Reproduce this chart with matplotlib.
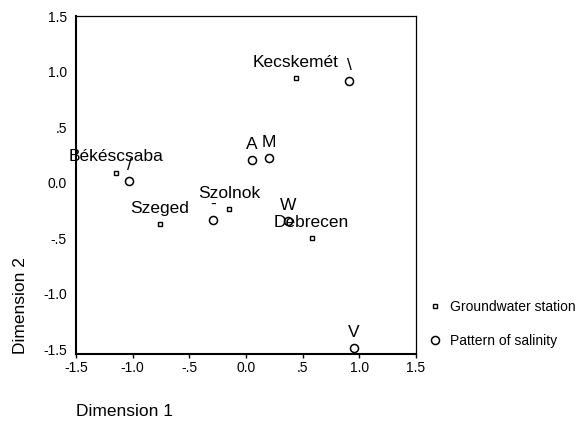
import matplotlib
matplotlib.use("Agg")
import matplotlib.pyplot as plt

plt.rcParams['font.family'] = ['Liberation Sans', 'DejaVu Sans']

# Groundwater stations
station_names = ["Kecskemét", "Békéscsaba", "Szeged", "Szolnok", "Debrecen"]
station_x = [0.44, -1.15, -0.76, -0.15, 0.58]
station_y = [0.94, 0.09, -0.37, -0.24, -0.50]

# Patterns of salinity
pattern_names = ["\\", "/", "-", "A", "M", "W", "V"]
pattern_x = [0.91, -1.03, -0.29, 0.05, 0.20, 0.37, 0.95]
pattern_y = [0.91, 0.01, -0.34, 0.20, 0.22, -0.35, -1.49]

ticks = [-1.5, -1.0, -0.5, 0.0, 0.5, 1.0, 1.5]
tick_labels = ["-1.5", "-1.0", "-.5", "0.0", ".5", "1.0", "1.5"]

W, H = 579, 423
fig = plt.figure(figsize=(W / 100, H / 100), dpi=100)
ax = fig.add_axes([76 / W, 1 - 354 / H, 340 / W, 338 / H])

ax.plot(station_x, station_y, linestyle='none', marker='s', ms=3.5,
        mfc='white', mec='black', mew=1.0, label="Groundwater station")
ax.plot(pattern_x, pattern_y, linestyle='none', marker='o', ms=5.8,
        mfc='white', mec='black', mew=1.1, label="Pattern of salinity")

for n, x, y in zip(station_names, station_x, station_y):
    ax.annotate(n, (x, y), xytext=(0, 11.2), textcoords='offset points',
                ha='center', va='center', fontsize=12.5)
for n, x, y in zip(pattern_names, pattern_x, pattern_y):
    ax.annotate(n, (x, y), xytext=(0, 11.2), textcoords='offset points',
                ha='center', va='center', fontsize=12.5)

ax.set_xlim(-1.5, 1.5)
ax.set_ylim(-1.545, 1.5)
ax.set_xticks(ticks)
ax.set_xticklabels(tick_labels)
ax.set_yticks(ticks)
ax.set_yticklabels(tick_labels)
ax.tick_params(axis='x', length=3, width=1, pad=2, labelsize=10, direction='out')
ax.tick_params(axis='y', length=0, pad=6.5, labelsize=10)

for side in ['left', 'bottom']:
    ax.spines[side].set_linewidth(1.5)
for side in ['top', 'right']:
    ax.spines[side].set_linewidth(0.9)

ax.set_xlabel("Dimension 1", fontsize=12.5, ha='left', va='center')
ax.xaxis.set_label_coords(0.0, -(411 - 354) / 338)
ax.set_ylabel("Dimension 2", fontsize=12.5, ha='center', va='center')
ax.yaxis.set_label_coords(-(76 - 20) / 340, (354 - 306) / 338)

fig.legend(loc='upper left', bbox_to_anchor=(428 / W, 1 - 300 / H),
           frameon=False, fontsize=10, handlelength=1.0, handletextpad=0.6,
           labelspacing=1.45, borderpad=0, borderaxespad=0)

fig.savefig("out.png", dpi=100)
